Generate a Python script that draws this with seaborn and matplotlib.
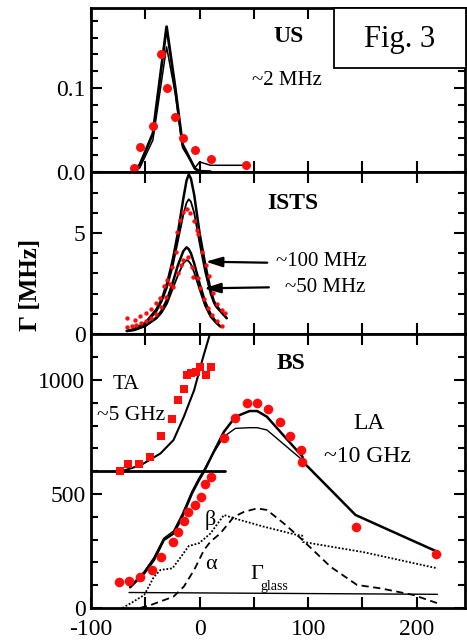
import matplotlib
matplotlib.use('Agg')
import matplotlib.pyplot as plt
import seaborn as sns
import pandas as pd
from matplotlib.patches import Rectangle

# ---------------- data ----------------
# US panel (~2 MHz)
us_dots_x = [-60.8, -55.0, -43.3, -35.6, -30.4, -22.4, -15.7, -4.3, 10.1, 42.4]
us_dots_y = [0.005, 0.030, 0.055, 0.141, 0.100, 0.065, 0.040, 0.026, 0.015, 0.008]
us_fitA_x = [-61, -55, -43, -30.4, -22.4, -15.7, -4.3, 0, 10]
us_fitA_y = [0.001, 0.009, 0.046, 0.173, 0.100, 0.033, 0.004, 0.001, 0.0005]
us_fitB_x = [-61, -55, -43, -30.4, -22.4, -15.7, -4.3, 0, 10, 42]
us_fitB_y = [0.0005, 0.005, 0.038, 0.149, 0.093, 0.029, 0.005, 0.012, 0.008, 0.008]

# ISTS panel (~100 MHz, ~50 MHz)
ists100_x = [-67.2, -59.9, -55.0, -49.7, -45.1, -40.5, -36.6, -32.9, -29.8, -25.2,
             -22.1, -20.5, -18.1, -15.0, -11.3, -8.9, -5.0, -2.8, -1.5, 2.5, 5.5,
             8.6, 12.0, 16.0, 20.9, 23.5]
ists100_y = [0.81, 0.69, 0.91, 1.02, 1.22, 1.52, 1.77, 2.38, 2.67, 3.33,
             4.07, 5.07, 5.64, 6.05, 6.17, 5.97, 5.60, 5.15, 4.95, 4.07, 3.40,
             2.87, 2.05, 1.50, 1.19, 1.05]
ists50_x = [-67.2, -62.0, -58.9, -53.7, -49.0, -44.5, -40.0, -35.5, -31.0, -27.3,
            -24.2, -20.0, -17.5, -15.0, -10.8, -6.8, -5.8, -1.5, 0.3, 4.0, 8.0,
            11.7, 16.0, 20.9]
ists50_y = [0.36, 0.40, 0.45, 0.56, 0.62, 0.78, 1.00, 1.35, 1.85, 2.50,
            2.31, 3.00, 3.40, 3.66, 3.83, 3.33, 2.84, 2.75, 2.26, 1.75, 1.30,
            0.94, 0.62, 0.41]
ists_fit_x = [-67, -60, -50, -40, -35, -30, -25, -20, -15, -12, -10, -8, -5, 0, 5, 10, 13, 15, 20, 25]
ists_fit1_y = [0.15, 0.25, 0.55, 1.2, 1.7, 2.5, 3.6, 5.0, 6.7, 7.6, 7.9, 7.7, 6.9, 5.0, 3.5, 2.2, 1.65, 1.45, 1.1, 0.78]
ists_fit2_y = [0.15, 0.25, 0.50, 1.1, 1.6, 2.3, 3.3, 4.6, 5.9, 6.5, 6.67, 6.55, 6.0, 4.5, 3.1, 2.0, 1.55, 1.35, 1.05, 0.78]
ists_fit_lo_x = [-67, -60, -50, -40, -35, -30, -25, -20, -15, -12, -10, -8, -5, 0, 5, 10, 15, 19]
ists_fit3_y = [0.15, 0.2, 0.4, 0.8, 1.15, 1.7, 2.5, 3.4, 4.1, 4.29, 4.2, 4.0, 3.5, 2.5, 1.6, 1.0, 0.6, 0.38]
ists_fit4_y = [0.15, 0.2, 0.4, 0.75, 1.05, 1.5, 2.2, 2.9, 3.5, 3.66, 3.6, 3.45, 3.05, 2.2, 1.4, 0.85, 0.55, 0.36]

# BS panel (TA ~5 GHz, LA ~10 GHz)
ta_sq_x = [-73.5, -65.5, -55.4, -45.6, -35.4, -25.0, -20.0, -14.8, -12.0, -7.6, -3.5, 0.3, 5.5, 10.1]
ta_sq_y = [601, 632, 633, 662, 754, 829, 912, 959, 1022, 1029, 1037, 1056, 1022, 1058]
ta_fit_x = [-73, -54, -36, -24, -14.5, -5, 2.5, 10]
ta_fit_y = [598, 627, 678, 737, 839, 956, 1088, 1210]
ta_base_x = [-100, 23]
ta_base_y = [601, 601]

la_dots_x = [-74.3, -65.1, -55.0, -44.2, -35.3, -24.6, -19.7, -14.5, -10.4, -4.3, 0.9, 4.9,
             10.1, 22.4, 32.6, 43.6, 53.0, 63.1, 74.5, 83.1, 93.5, 94.1, 143.6, 217.4]
la_dots_y = [114, 120, 135, 167, 222, 291, 335, 383, 420, 453, 488, 545,
             576, 744, 835, 901, 901, 872, 817, 754, 693, 642, 357, 235]
la_fit_x = [-64, -51, -42, -33, -24, -16, -7, -0.6, 4, 13, 22.4, 33, 46, 53, 62, 94.7, 95.5, 143.6, 217.4]
la_fit_y = [91, 152, 211, 298, 327, 400, 503, 561, 598, 685, 773, 839, 864, 864, 839, 664, 640, 408, 250]
la_fit2_x = [-64, -51, -42, -33, -24, -16, -7, -0.6, 4, 13, 22.4, 33, 46, 53, 62, 94.7]
la_fit2_y = [95, 160, 222, 306, 338, 412, 512, 570, 606, 682, 752, 788, 791, 791, 781, 649]

beta_x = [-71, -62, -51, -42, -36, -25, -16, -10, -0.6, 10, 22.4, 35, 59, 90, 94.5, 95, 151, 219]
beta_y = [0, 25, 57, 137, 167, 174, 232, 272, 284, 327, 408, 389, 357, 320, 318, 290, 245, 174]
alpha_x = [-55, -45, -24, -14.5, -5, 4, 10, 19, 31.6, 41, 53, 62, 77.6, 93, 120.6, 145, 167, 197, 219]
alpha_y = [0, 13, 50, 94, 167, 254, 291, 327, 400, 422, 437, 430, 371, 306, 181, 101, 86, 57, 21]
glass_x = [-65, 219]
glass_y = [68, 60]

x_ticks = [-100, -50, 0, 50, 100, 150, 200]
x_ticklabels = ['-100', '', '0', '', '100', '', '200']

# ---------------- style ----------------
sns.set_theme(style='ticks')
plt.rcParams['font.family'] = ['Liberation Serif', 'DejaVu Serif']
plt.rcParams['mathtext.fontset'] = 'stix'
plt.rcParams['axes.unicode_minus'] = False
for k in ['text.color', 'axes.labelcolor', 'xtick.color', 'ytick.color', 'axes.edgecolor']:
    plt.rcParams[k] = 'black'

RED = '#ff0d0d'
W, H = 467, 641
fig = plt.figure(figsize=(W / 100, H / 100), dpi=100)
L = 91 / W
Wd = 374 / W
ax1 = fig.add_axes([L, 1 - 172 / H, Wd, 164 / H])
ax2 = fig.add_axes([L, 1 - 334 / H, Wd, 162 / H])
ax3 = fig.add_axes([L, 1 - 608 / H, Wd, 274 / H])


def line(ax, x, y, lw=1.8, ls='-'):
    df = pd.DataFrame({'x': x, 'y': y})
    sns.lineplot(data=df, x='x', y='y', ax=ax, color='black', lw=lw, ls=ls,
                 sort=False, estimator=None, legend=False)


def dots(ax, x, y, s=40, marker='o'):
    df = pd.DataFrame({'x': x, 'y': y})
    sns.scatterplot(data=df, x='x', y='y', ax=ax, color=RED, s=s, marker=marker,
                    linewidth=0, legend=False, zorder=3)


# US
dots(ax1, us_dots_x, us_dots_y, s=42)
line(ax1, us_fitA_x, us_fitA_y, lw=2.0)
line(ax1, us_fitB_x, us_fitB_y, lw=1.1)

# ISTS
dots(ax2, ists100_x, ists100_y, s=10)
dots(ax2, ists50_x, ists50_y, s=10)
line(ax2, ists_fit_x, ists_fit1_y, lw=1.8)
line(ax2, ists_fit_x, ists_fit2_y, lw=1.3)
line(ax2, ists_fit_lo_x, ists_fit3_y, lw=1.8)
line(ax2, ists_fit_lo_x, ists_fit4_y, lw=1.3)

# BS
dots(ax3, ta_sq_x, ta_sq_y, s=36, marker='s')
dots(ax3, la_dots_x, la_dots_y, s=48)
line(ax3, ta_fit_x, ta_fit_y, lw=1.5)
line(ax3, ta_base_x, ta_base_y, lw=2.0)
line(ax3, la_fit_x, la_fit_y, lw=1.8)
line(ax3, la_fit2_x, la_fit2_y, lw=1.0)
line(ax3, beta_x, beta_y, lw=1.3, ls=(0, (1, 1)))
line(ax3, alpha_x, alpha_y, lw=1.3, ls=(0, (4, 2.5)))
line(ax3, glass_x, glass_y, lw=1.0)

# axes cosmetics
for ax in (ax1, ax2, ax3):
    ax.set_xlim(-100, 244.4)
    ax.set_xticks(x_ticks)
    ax.set_xlabel('')
    ax.set_ylabel('')
    for sp in ax.spines.values():
        sp.set_linewidth(2.0)
        sp.set_color('black')
        sp.set_visible(True)
    ax.tick_params(which='both', direction='in', top=True, right=True,
                   width=1.5, labelsize=17, pad=4)
    ax.tick_params(which='major', length=8)
    ax.tick_params(which='minor', length=5)
    ax.set_facecolor('white')

ax3.set_xticklabels(x_ticklabels)
ax3.tick_params(axis='x', pad=8)
ax1.tick_params(labelbottom=False)
ax2.tick_params(labelbottom=False)

ax1.set_ylim(0, 0.1952)
ax1.set_yticks([0.0, 0.1])
ax1.set_yticklabels(['0.0', '0.1'])
ax1.set_yticks([0.02, 0.04, 0.06, 0.08, 0.12, 0.14, 0.16, 0.18], minor=True)

ax2.set_ylim(0, 8.02)
ax2.set_yticks([0, 5])
ax2.set_yticklabels(['0', '5'])
ax2.set_yticks([1, 2, 3, 4, 6, 7, 8], minor=True)

ax3.set_ylim(0, 1202)
ax3.set_yticks([0, 500, 1000])
ax3.set_yticklabels(['0', '500', '1000'])
ax3.set_yticks([100, 200, 300, 400, 600, 700, 800, 900, 1100], minor=True)

# texts
ax1.text(82, 0.161, 'US', fontsize=17, fontweight='bold', ha='center', va='center')
ax1.text(80, 0.1095, '~2 MHz', fontsize=15, ha='center', va='center')

ax2.text(86, 6.47, 'ISTS', fontsize=17, fontweight='bold', ha='center', va='center')
arrow_style = dict(arrowstyle='-|>,head_length=1.0,head_width=0.3',
                   color='black', lw=1.6, shrinkA=0, shrinkB=0, mutation_scale=10)
ax2.annotate('', xy=(5.5, 3.58), xytext=(62.3, 3.53), arrowprops=arrow_style)
ax2.annotate('', xy=(4.0, 2.26), xytext=(63.8, 2.31), arrowprops=arrow_style)
ax2.text(70, 3.58, '~100 MHz', fontsize=15, ha='left', va='center')
ax2.text(79, 2.3, '~50 MHz', fontsize=15, ha='left', va='center')

ax3.text(84.5, 1073, 'BS', fontsize=17, fontweight='bold', ha='center', va='center')
ax3.text(-67.4, 981, 'TA', fontsize=15.5, ha='center', va='center')
ax3.text(-63.2, 846, '~5 GHz', fontsize=15.5, ha='center', va='center')
ax3.text(156.5, 810, 'LA', fontsize=17, ha='center', va='center')
ax3.text(155, 664, '~10 GHz', fontsize=17, ha='center', va='center')
ax3.text(10.1, 386, 'β', fontsize=16, ha='center', va='center')
ax3.text(10.8, 189, 'α', fontsize=16, ha='center', va='center')
ax3.text(53, 145, 'Γ', fontsize=16, ha='center', va='center')
ax3.text(68.8, 93, 'glass', fontsize=10, ha='center', va='center')

fig.text(30 / W, 1 - 285 / H, 'Γ [MHz]', rotation=90, fontsize=18, fontweight='bold',
         ha='center', va='center')

# Fig. 3 box
fig.add_artist(Rectangle((334 / W, 1 - 68 / H), (466 - 334) / W, 60 / H,
                         transform=fig.transFigure, facecolor='white',
                         edgecolor='black', lw=1.3, zorder=10))
fig.text(400 / W, 1 - 39 / H, 'Fig. 3', fontsize=22, ha='center', va='center', zorder=11)

fig.savefig('out.png', dpi=100)
